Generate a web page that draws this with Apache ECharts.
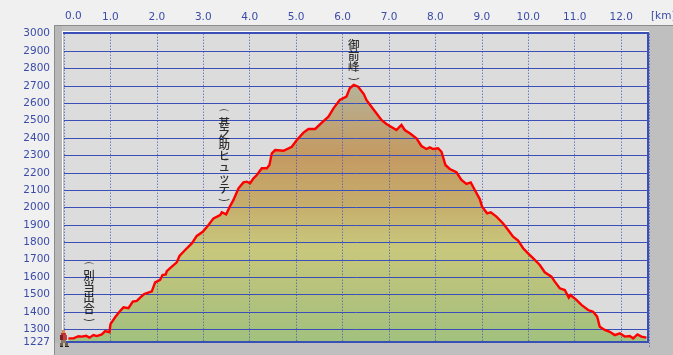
<!DOCTYPE html>
<html>
<head>
<meta charset="utf-8">
<style>html,body{margin:0;padding:0;background:#f0f0f0}#c{width:673px;height:355px}</style>
<script src="https://cdn.jsdelivr.net/npm/echarts@6/dist/echarts.min.js"></script>
</head>
<body>
<div id="c"></div>
<script>
const xTickLabels = [1,2,3,4,5,6,7,8,9,10,11,12];
const yTicks = [1227,1300,1400,1500,1600,1700,1800,1900,2000,2100,2200,2300,2400,2500,2600,2700,2800,2900,3000];
const profile = [
[0.096,1248],[0.204,1248],[0.311,1260],[0.383,1258],[0.476,1263],[0.548,1252],[0.634,1267],[0.706,1261],[0.814,1271],[0.886,1290],[0.979,1283],
[1.001,1330],[1.101,1369],[1.194,1401],[1.281,1426],[1.388,1421],[1.482,1459],[1.568,1463],[1.640,1482],[1.726,1503],[1.891,1518],[1.963,1570],
[2.070,1584],[2.121,1612],[2.192,1616],[2.214,1635],[2.322,1660],[2.429,1685],[2.487,1722],[2.609,1756],[2.753,1794],[2.860,1837],[2.989,1861],
[3.112,1900],[3.219,1938],[3.363,1957],[3.399,1973],[3.492,1961],[3.578,2009],[3.650,2044],[3.758,2111],[3.865,2145],[3.937,2149],
[4.009,2140],[4.081,2168],[4.153,2187],[4.260,2226],[4.368,2226],[4.425,2245],[4.476,2312],[4.548,2331],[4.727,2327],[4.907,2350],
[5.014,2389],[5.158,2431],[5.265,2452],[5.409,2452],[5.553,2488],[5.696,2523],[5.804,2571],[5.940,2619],
[6.083,2638],[6.155,2686],[6.241,2705],[6.335,2695],[6.457,2653],[6.514,2619],[6.622,2580],[6.729,2542],[6.837,2504],[6.945,2481],
[7.160,2446],[7.268,2475],[7.340,2446],[7.447,2427],[7.591,2398],[7.699,2354],[7.806,2337],[7.878,2346],[7.950,2337],
[8.058,2341],[8.130,2321],[8.216,2245],[8.309,2222],[8.453,2203],[8.560,2159],[8.668,2136],[8.761,2145],[8.848,2101],[8.955,2049],
[9.005,2005],[9.113,1967],[9.192,1973],[9.314,1948],[9.458,1909],[9.566,1871],[9.673,1833],[9.781,1810],[9.889,1766],[9.996,1737],
[10.140,1699],[10.248,1670],[10.355,1628],[10.499,1603],[10.571,1574],[10.678,1536],[10.786,1526],[10.872,1482],[10.908,1497],
[11.037,1469],[11.145,1440],[11.289,1411],[11.396,1401],[11.483,1373],[11.540,1315],[11.648,1296],[11.755,1286],[11.863,1267],[11.971,1277],
[12.079,1258],[12.186,1261],[12.258,1248],[12.351,1271],[12.437,1258],[12.545,1252]
];
const places = [
  {name:'別当出合', km:0.54, alt:1515},
  {name:'甚之助ヒュッテ', km:3.45, alt:2300},
  {name:'御前峰', km:6.24, alt:2872}
];

const blue = '#3b4fb8';
const labelBlue = '#3b4ca8';
const chart = echarts.init(document.getElementById('c'), null, {renderer:'canvas'});
const labelFont = 'DejaVu Sans';
const px = (x,y,w,h,fill,z)=>({type:'rect',z:z,shape:{x,y,width:w,height:h},style:{fill},silent:true});
const front = 100;

chart.setOption({
  animation:false,
  backgroundColor:'#f0f0f0',
  grid:{left:64,right:24,top:33.7,bottom:8.3,show:true,backgroundColor:'#dcdcdc',borderWidth:0,z:1},
  xAxis:{
    type:'value',position:'top',min:0,max:12.6,interval:1,z:4,
    axisLine:{show:false},axisTick:{show:false},
    axisLabel:{customValues:xTickLabels,color:labelBlue,fontFamily:labelFont,fontSize:10.5,margin:11,
      formatter:v=>Number(v).toFixed(1)},
    splitLine:{show:true,lineStyle:{color:blue,width:1,type:[1,2]}}
  },
  yAxis:{
    type:'value',min:1200,max:3000,interval:100,z:4,
    axisLine:{show:false},axisTick:{show:false},
    axisLabel:{customValues:yTicks,color:labelBlue,fontFamily:labelFont,fontSize:10.5,margin:14,padding:[0,0,5,0],
      formatter:v=>String(v)},
    splitLine:{show:true,lineStyle:{color:blue,width:1,type:'solid'}}
  },
  series:[
    {type:'line',data:profile,symbol:'none',z:2,lineStyle:{width:0},
      areaStyle:{opacity:1,color:{type:'linear',x:0,y:0,x2:0,y2:1,colorStops:[
        {offset:0,color:'#b5b39a'},{offset:0.12,color:'#bca77f'},{offset:0.27,color:'#c49a62'},
        {offset:0.45,color:'#c6ac6c'},{offset:0.62,color:'#c8c87c'},{offset:0.8,color:'#b5c27c'},{offset:1,color:'#9fc17f'}]}}
    },
    {type:'line',data:profile,symbol:'none',z:6,lineStyle:{color:'#ff0000',width:2.4,join:'miter'}},
    {type:'scatter',z:7,symbolSize:0,silent:true,
      data:places.map(p=>({value:[p.km,p.alt],name:p.name})),
      label:{show:true,position:'inside',color:'#000',fontFamily:'Noto Sans CJK JP',fontSize:12,align:'center',verticalAlign:'middle',
        formatter:p=>['{p|⌒}',...[...p.name].map(c=>'{c|'+c+'}'),'{q|‿}'].join('\n'),
        rich:{p:{fontFamily:'DejaVu Sans',fontSize:12,lineHeight:2,color:'#000'},
              q:{fontFamily:'DejaVu Sans',fontSize:12,lineHeight:2,color:'#000'},
              c:{fontFamily:'Noto Sans CJK JP',fontSize:11.5,fontWeight:500,lineHeight:11,color:'#000'}}}}
  ],
  graphic:[
    px(54,25,619,330,'#bfbfbf',-1),
    px(54,25,619,1,'#8c8c8c',-1),
    px(54,25,1,330,'#8c8c8c',-1),
    px(55,26,7,329,'#b8b8b8',-1),
    px(62,31,587,1,'#ffffff',-1),
    px(62,31,1,311,'#ffffff',-1),
    px(55,343,594,12,'#bfbfbf',50),
    px(63,32,586,2,blue,front),
    px(647,32,2,311,blue,front),
    px(63,341,586,2,blue,front),
    /* walker icon */
    px(62,330,3,3,'#d98a50',front),
    px(61,333,5,2,'#c23030',front),
    px(60,335,3,5,'#7a1f1f',front),
    px(63,335,4,5,'#c04040',front),
    px(61,340,5,3,'#8a7a60',front),
    px(60,343,3,3,'#6f6248',front),
    px(65,343,3,3,'#6f6248',front),
    px(60,346,3,1,'#222222',front),
    px(65,346,4,1,'#222222',front),
    {type:'text',z:front,silent:true,style:{x:65,y:11,text:'0.0',fill:labelBlue,font:'10.5px DejaVu Sans'}},
    {type:'text',z:front,silent:true,style:{x:651,y:11,text:'[km]',fill:labelBlue,font:'10.5px DejaVu Sans'}}
  ]
});
</script>
</body>
</html>
